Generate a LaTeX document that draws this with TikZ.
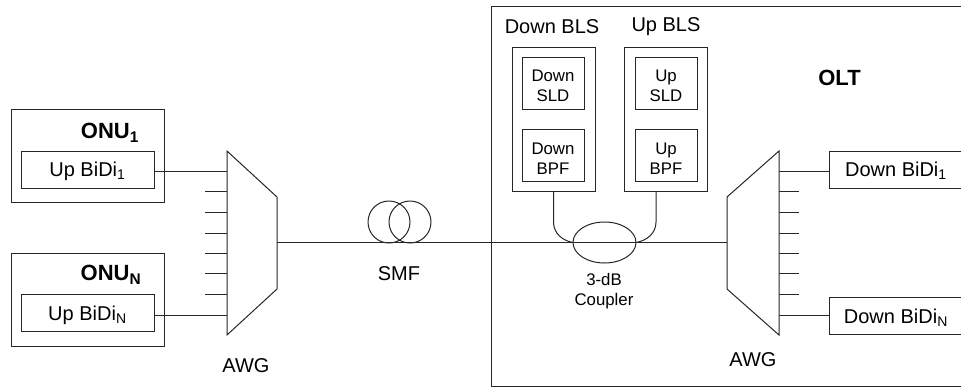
\documentclass[tikz,border=0pt]{standalone}
\usepackage{fontspec}
\setmainfont{Liberation Sans}
\usetikzlibrary{calc,shapes.geometric}
\newcommand{\padtop}{\rule{0pt}{13.5pt}}
\tikzset{
	boxline/.style={draw=black!85, line width=0.75pt, inner sep=0pt, outer sep=0pt},
	onubox/.style={boxline, minimum width=114.75pt, minimum height=69.75pt},
	bidibox/.style={boxline, font=\fontsize{15}{17}\selectfont, text height=11.2pt, text depth=0pt, minimum width=99.75pt, minimum height=27.75pt},
	blsbox/.style={boxline, minimum width=62.25pt, minimum height=108pt},
	partbox/.style={boxline, font=\fontsize{12.6}{15}\selectfont, align=center, minimum width=46.5pt, minimum height=39pt},
	coil/.style={boxline, circle, minimum size=31.5pt},
	bigtext/.style={font=\fontsize{15}{17}\selectfont, align=center},
	smalltext/.style={font=\fontsize{12.6}{15}\selectfont, align=center},
	headtext/.style={font=\fontsize{16.5}{18}\selectfont\bfseries},
	fibre/.style={draw=black!85, line width=0.75pt}
}
\begin{document}
\begin{tikzpicture}[x=0.75pt, y=-0.75pt]
			%%%%% START %%%%%
			\useasboundingbox (0, 0) rectangle (961, 387);
			\clip (0, 0) rectangle (961, 387);
			
			% ONU side
			\node[onubox] (onuone) at (87.5, 155.5) {};
			\node[headtext] (onuonetext) at (110, 133) {ONU\textsubscript{1}};
			\node[bidibox] (upbidione) at (87.5, 169.5) {Up BiDi\textsubscript{1}};
			
			\node[onubox] (onun) at (87.5, 299.5) {};
			\node[headtext] (onuntext) at (111, 275) {ONU\textsubscript{N}};
			\node[bidibox] (upbidin) at (87.5, 313) {Up BiDi\textsubscript{N}};
			
			% left AWG
			\coordinate (awglta) at (227, 151);
			\coordinate (awgltb) at (277, 197);
			\coordinate (awgltc) at (277, 289);
			\coordinate (awgltd) at (227, 335);
			\coordinate (awgltout) at (277, 242);
			\coordinate (awgltone) at (227, 171);
			\coordinate (awgltn) at (227, 315);
			\draw[fibre] (awglta) -- (awgltb) -- (awgltc) -- (awgltd) -- cycle;
			\node[bigtext] (awglttext) at (246, 366) {AWG};
			
			\draw[fibre] (upbidione.east |- awgltone) -- (awgltone);
			\draw[fibre] (upbidin.east |- awgltn) -- (awgltn);
			\draw[fibre] (227, 191) -- (205, 191);
			\draw[fibre] (227, 212) -- (205, 212);
			\draw[fibre] (227, 233) -- (205, 233);
			\draw[fibre] (227, 253) -- (205, 253);
			\draw[fibre] (227, 273) -- (205, 273);
			\draw[fibre] (227, 294) -- (205, 294);
			
			% fibre span
			\node[coil] (smfone) at (389, 222) {};
			\node[coil] (smftwo) at (410, 222) {};
			\node[bigtext] (smftext) at (399, 274) {SMF};
			
			% OLT side
			\node[boxline, minimum width=381.75pt, minimum height=285pt] (olt) at (745.5, 196) {};
			\node[headtext] (olttext) at (839.5, 78) {OLT};
			
			\node[bigtext] (downblstext) at (552, 27) {Down BLS};
			\node[blsbox] (downbls) at (553.5, 119) {};
			\node[partbox] (downsld) at (553, 83) {\padtop Down\\SLD};
			\node[partbox] (downbpf) at (553, 155) {\padtop Down\\BPF};
			
			\node[bigtext] (upblstext) at (666, 27) {Up BLS};
			\node[blsbox] (upbls) at (665.5, 119) {};
			\node[partbox] (upsld) at (666, 83) {\padtop Up\\SLD};
			\node[partbox] (upbpf) at (666, 155) {\padtop Up\\BPF};
			
			\node[boxline, ellipse, minimum width=47.25pt, minimum height=30.75pt] (coupler) at (604.5, 242.5) {};
			\node[smalltext] (couplertext) at (604, 291) {3-dB\\Coupler};
			
			\coordinate (downbend) at (553.5, 222);
			\coordinate (upbend) at (656, 222);
			\draw[fibre] (downbls.south) -- (downbend) to[out=-90, in=170] (coupler.west);
			\draw[fibre] (upbend |- upbls.south) -- (upbend) to[out=-90, in=10] (coupler.east);
			
			% right AWG
			\coordinate (awgrta) at (779, 151);
			\coordinate (awgrtb) at (727, 197);
			\coordinate (awgrtc) at (727, 289);
			\coordinate (awgrtd) at (779, 335);
			\coordinate (awgrtin) at (727, 242);
			\coordinate (awgrtone) at (779, 171);
			\coordinate (awgrtn) at (779, 315);
			\draw[fibre] (awgrta) -- (awgrtb) -- (awgrtc) -- (awgrtd) -- cycle;
			\node[bigtext] (awgrttext) at (753, 360) {AWG};
			
			\draw[fibre] (awgltout) -- (awgrtin);
			
			\node[bidibox, minimum width=100.5pt] (downbidione) at (896, 169.5) {Down BiDi\textsubscript{1}};
			\node[bidibox, minimum width=100.5pt] (downbidin) at (896, 316) {Down BiDi\textsubscript{N}};
			\draw[fibre] (awgrtone) -- (downbidione.west |- awgrtone);
			\draw[fibre] (awgrtn) -- (downbidin.west |- awgrtn);
			\draw[fibre] (779, 191) -- (799, 191);
			\draw[fibre] (779, 212) -- (799, 212);
			\draw[fibre] (779, 233) -- (799, 233);
			\draw[fibre] (779, 253) -- (799, 253);
			\draw[fibre] (779, 273) -- (799, 273);
			\draw[fibre] (779, 294) -- (799, 294);
			%%%%% END %%%%%
		\end{tikzpicture}
\end{document}
